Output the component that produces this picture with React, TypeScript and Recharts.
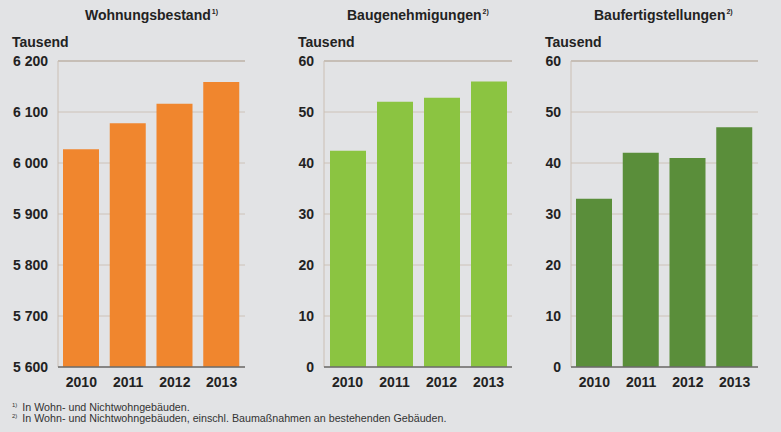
import React from 'react'
import { BarChart, Bar, XAxis, YAxis, CartesianGrid, ReferenceLine } from 'recharts'

const years = ['2010', '2011', '2012', '2013']
const bestand = [6027, 6078, 6116, 6159]
const genehmigungen = [42.4, 52, 52.8, 56]
const fertigstellungen = [33, 42, 41, 47]
const bestandTicks = [5600, 5700, 5800, 5900, 6000, 6100, 6200]
const tausendTicks = [0, 10, 20, 30, 40, 50, 60]

const font = '"Liberation Sans", Arial, sans-serif'
const tickStyle = { fill: '#222', fontWeight: 'bold' as const, fontSize: 14, fontFamily: font }

const fmt = (v: number) => String(v).replace(/\B(?=(\d{3})+(?!\d))/g, ' ')

interface PanelProps {
    left: number
    width: number
    yWidth: number
    right: number
    values: number[]
    ticks: number[]
    color: string
}

function Panel({ left, width, yWidth, right, values, ticks, color }: PanelProps) {
    const data = years.map((y, i) => ({ year: y, value: values[i] }))
    const max = ticks[ticks.length - 1]
    return (
        <div style={{ position: 'absolute', left, top: 0 }}>
            <BarChart width={width} height={400} data={data} margin={{ top: 61, right, left: 0, bottom: 3 }}>
                <CartesianGrid vertical={false} stroke="#cdc2b8" />
                <ReferenceLine y={max} stroke="#c6beb6" strokeWidth={2} />
                <YAxis
                    width={yWidth}
                    domain={[ticks[0], max]}
                    ticks={ticks}
                    interval={0}
                    tickFormatter={fmt}
                    tick={tickStyle}
                    tickLine={false}
                    tickSize={0}
                    tickMargin={10}
                    axisLine={{ stroke: '#cbbfb4' }}
                />
                <XAxis
                    dataKey="year"
                    height={30}
                    tick={tickStyle}
                    tickLine={false}
                    tickSize={0}
                    tickMargin={10}
                    axisLine={{ stroke: '#6b6b6b', strokeWidth: 1.5 }}
                />
                <Bar dataKey="value" fill={color} barSize={36} isAnimationActive={false} />
            </BarChart>
        </div>
    )
}

const titleStyle: React.CSSProperties = {
    position: 'absolute', top: 7, fontFamily: font, fontWeight: 'bold', fontSize: 14, color: '#222', whiteSpace: 'nowrap'
}
const unitStyle: React.CSSProperties = {
    position: 'absolute', top: 34, fontFamily: font, fontWeight: 'bold', fontSize: 14, color: '#222'
}
const supStyle: React.CSSProperties = { fontSize: 7, verticalAlign: 6, marginLeft: 1 }
const noteStyle: React.CSSProperties = {
    position: 'absolute', left: 12, fontFamily: font, fontSize: 10.7, lineHeight: '11px', color: '#333', whiteSpace: 'nowrap'
}
const noteSup: React.CSSProperties = { fontSize: 6, verticalAlign: 4, marginRight: 5, lineHeight: '6px' }

export default function App() {
    return (
        <div style={{ position: 'absolute', left: 0, top: 0, width: 781, height: 432, background: '#e2e3e5', overflow: 'hidden' }}>
            <Panel left={0} width={250} yWidth={58} right={5} values={bestand} ticks={bestandTicks} color="#f0862e" />
            <Panel left={260} width={260} yWidth={64} right={8} values={genehmigungen} ticks={tausendTicks} color="#8bc441" />
            <Panel left={520} width={245} yWidth={51} right={7} values={fertigstellungen} ticks={tausendTicks} color="#5a8e3a" />

            <div style={{ ...titleStyle, left: 85 }}>Wohnungsbestand<span style={supStyle}>1)</span></div>
            <div style={{ ...titleStyle, left: 347 }}>Baugenehmigungen<span style={supStyle}>2)</span></div>
            <div style={{ ...titleStyle, left: 594 }}>Baufertigstellungen<span style={supStyle}>2)</span></div>

            <div style={{ ...unitStyle, left: 12 }}>Tausend</div>
            <div style={{ ...unitStyle, left: 298 }}>Tausend</div>
            <div style={{ ...unitStyle, left: 545 }}>Tausend</div>

            <div style={{ ...noteStyle, top: 402 }}>
                <span style={noteSup}>1)</span>In Wohn- und Nichtwohngebäuden.
            </div>
            <div style={{ ...noteStyle, top: 413 }}>
                <span style={noteSup}>2)</span>In Wohn- und Nichtwohngebäuden, einschl. Baumaßnahmen an bestehenden Gebäuden.
            </div>
        </div>
    )
}
